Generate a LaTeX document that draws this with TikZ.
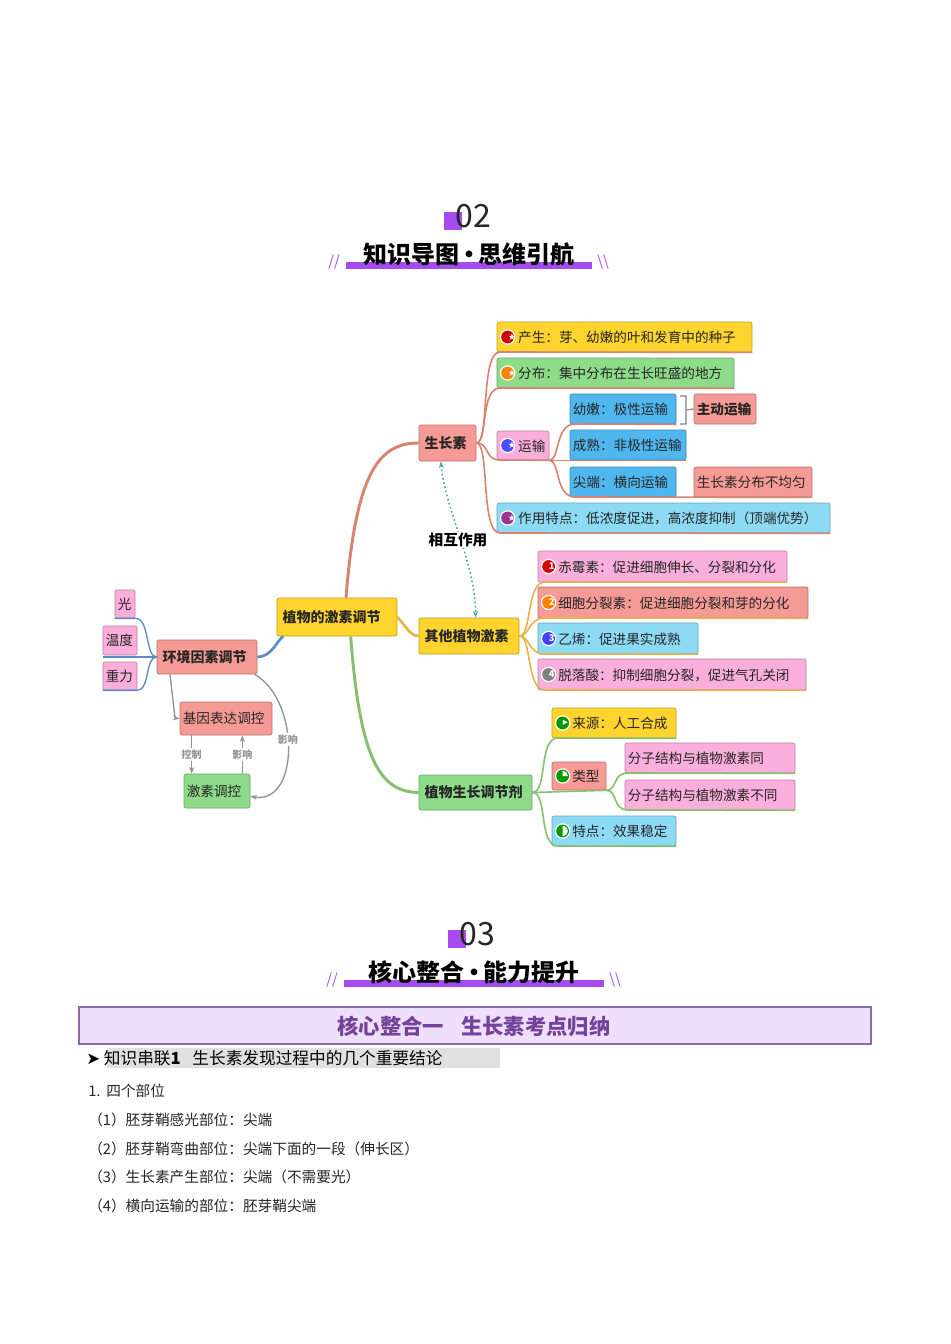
\documentclass[tikz,border=0pt]{standalone}
\usepackage{fontspec}
\setmainfont{Noto Sans CJK SC}
\newfontfamily\sym{DejaVu Sans}
\usetikzlibrary{arrows.meta}
\definecolor{cyel}{HTML}{FFD42E}
\definecolor{cgrn}{HTML}{8EDB8A}
\definecolor{csal}{HTML}{F59A94}
\definecolor{cpink}{HTML}{F9AEDC}
\definecolor{clb}{HTML}{8DDAF5}
\definecolor{cblue}{HTML}{4FB6EE}
\definecolor{cpur}{HTML}{A64BF0}
\definecolor{lred}{HTML}{D9826F}
\definecolor{lora}{HTML}{E7B24A}
\definecolor{lgrn}{HTML}{86C06C}
\definecolor{lblu}{HTML}{5A8AC8}
\newcommand{\bx}[7]{%
 \node[draw=#6!75!black,line width=0.5pt,fill=#6,rounded corners=1.5pt,inner sep=0pt,
  minimum width={(#4-#2)*0.75pt},minimum height={(#5-#3)*0.75pt}] (#1) at ({(#2+#4)/2},{(#3+#5)/2}) {};
 \node[anchor=west,inner sep=0pt,font=\fontsize{10.2}{11}\selectfont,text=black!85] (#1t) at ([xshift=2.2pt]#1.west) {#7};}
\newcommand{\ic}[3]{\tikz[baseline=-0.75ex]{\fill[white] (0,0) circle (5.8pt);\fill[#1] (0,0) circle (4.8pt);\node[text=white,font=#3,inner sep=0pt] at (0,0) {#2};}\hspace{1.5pt}}
\newcommand{\st}[1]{\ic{#1}{\sym\fontsize{7}{7}\selectfont ★}{}}
\newcommand{\nm}[2]{\ic{#1}{\bfseries\fontsize{7}{7}\selectfont #2}{}}
\newcommand{\pie}[1]{\tikz[baseline=-0.75ex]{\fill[white] (0,0) circle (5.8pt);\fill[green!60!black] (0,0) circle (4.8pt);\fill[white] (0,0) -- (90:4pt) arc (90:#1:4pt) -- cycle;}\hspace{1.5pt}}
\begin{document}
\begin{tikzpicture}[x=0.75pt,y=-0.75pt]
\useasboundingbox (0,0) rectangle (950,1344);
\fill[white] (0,0) rectangle (950,1344);
% ===== header 02
\fill[cpur] (444,212) rectangle (462,230);
\node[font=\fontsize{24}{24}\selectfont,text=black!85] (h02) at (473,216) {02};
\fill[cpur] (346,262) rectangle (592,269);
\node[font=\bfseries\fontsize{18}{18}\selectfont] (t02) at (469,254) {知识导图\kern-2pt•\kern-2pt思维引航};
\node[text=cpur,font=\fontsize{11}{11}\selectfont] (s1) at (334,262) {//};
\node[text=cpur,font=\fontsize{11}{11}\selectfont] (s2) at (603,262) {\textbackslash\textbackslash};
% ===== header 03
\fill[cpur] (448,930) rectangle (466,948);
\node[font=\fontsize{24}{24}\selectfont,text=black!85] (h03) at (477,934) {03};
\fill[cpur] (344,980) rectangle (604,987);
\node[font=\bfseries\fontsize{18}{18}\selectfont] (t03) at (474,972) {核心整合\kern-2pt•\kern-2pt能力提升};
\node[text=cpur,font=\fontsize{11}{11}\selectfont] (s3) at (332,980) {//};
\node[text=cpur,font=\fontsize{11}{11}\selectfont] (s4) at (615,980) {\textbackslash\textbackslash};
% ===== purple box
\node[draw=black!45!cpur!70,line width=1.6pt,fill=cpur!18,minimum width={792*0.75pt},minimum height={37*0.75pt},inner sep=0pt] (pb) at (475,1025.5) {};
\node[text=cpur!60!black!90,font=\bfseries\fontsize{16}{16}\selectfont] (pbt) at (474,1026) {核心整合一\hspace{0.8em}生长素考点归纳};
\fill[black!12] (107,1048) rectangle (500,1068);
\node[anchor=west,inner sep=0pt,font=\fontsize{12.5}{13}\selectfont] (k1) at (86,1058) {{\sym ➤} 知识串联\textbf{1}\hspace{0.7em}生长素发现过程中的几个重要结论};
\begin{scope}[every node/.style={anchor=west,inner sep=0pt,font=\fontsize{11}{12}\selectfont,text=black!85}]
\node (b0) at (88,1091) {1.\hspace{0.4em}四个部位};
\node (b1) at (88,1120) {（1）胚芽鞘感光部位：尖端};
\node (b2) at (88,1149) {（2）胚芽鞘弯曲部位：尖端下面的一段（伸长区）};
\node (b3) at (88,1177) {（3）生长素产生部位：尖端（不需要光）};
\node (b4) at (88,1206) {（4）横向运输的部位：胚芽鞘尖端};
\end{scope}
% ===== mind map boxes
\bx{root}{277}{598}{397}{636}{cyel}{\bfseries\fontsize{10.5}{12}\selectfont\kern2pt 植物的激素调节}
\bx{env}{157}{640}{257}{674}{csal}{\bfseries\fontsize{10.5}{12}\selectfont\kern2pt 环境因素调节}
\bx{guang}{115}{590}{135}{618}{cpink}{光}
\bx{wendu}{103}{626}{137}{655}{cpink}{温度}
\bx{zhongli}{103}{662}{137}{690}{cpink}{重力}
\bx{jiyin}{180}{702}{272}{735}{csal}{基因表达调控}
\bx{jisu}{184}{774}{250}{808}{cgrn}{激素调控}
\bx{szs}{419}{425}{476}{461}{csal}{\bfseries\fontsize{10.5}{12}\selectfont\kern2pt 生长素}
\bx{qita}{419}{618}{519}{654}{cyel}{\bfseries\fontsize{10.5}{12}\selectfont\kern2pt 其他植物激素}
\bx{tjj}{419}{775}{532}{810}{cgrn}{\bfseries\fontsize{10.5}{12}\selectfont\kern2pt 植物生长调节剂}
\bx{cs}{497}{322}{752}{352}{cyel}{\st{red!80!black}产生：芽、幼嫩的叶和发育中的种子}
\bx{fb}{497}{358}{734}{388}{cgrn}{\st{orange}分布：集中分布在生长旺盛的地方}
\bx{ys}{497}{431}{549}{460}{cpink}{\st{blue!70}运输}
\bx{zy}{497}{503}{830}{533}{clb}{\st{violet!80}作用特点：低浓度促进，高浓度抑制（顶端优势）}
\bx{yn}{570}{394}{676}{424}{cblue}{幼嫩：极性运输}
\bx{cshu}{570}{430}{686}{460}{cblue}{成熟：非极性运输}
\bx{jd}{570}{467}{676}{497}{cblue}{尖端：横向运输}
\bx{zd}{694}{394}{756}{424}{csal}{\bfseries 主动运输}
\bx{bjy}{694}{467}{812}{497}{csal}{生长素分布不均匀}
\bx{cms}{538}{551}{787}{582}{cpink}{\nm{red!85!black}{1}赤霉素：促进细胞伸长、分裂和分化}
\bx{xb}{538}{587}{808}{618}{csal}{\nm{orange}{2}细胞分裂素：促进细胞分裂和芽的分化}
\bx{yx}{538}{623}{698}{654}{clb}{\nm{blue!75}{3}乙烯：促进果实成熟}
\bx{tl}{538}{659}{806}{690}{cpink}{\nm{gray}{4}脱落酸：抑制细胞分裂，促进气孔关闭}
\bx{ly}{552}{708}{676}{738}{cyel}{\ic{green!60!black}{\sym\fontsize{5}{5}\selectfont ▶}{}来源：人工合成}
\bx{lx}{552}{762}{606}{790}{csal}{\pie{0}类型}
\bx{ft}{625}{743}{795}{773}{cpink}{分子结构与植物激素同}
\bx{fbt}{625}{780}{795}{810}{cpink}{分子结构与植物激素不同}
\bx{td}{552}{816}{676}{846}{clb}{\pie{-90}特点：效果稳定}
% ===== connectors
\tikzset{tr/.style={line width=1.2pt}}
\draw[lred,line width=2.2pt] ([xshift=52pt]root.north west) .. controls (356,470) and (380,443) .. (szs.west);
\draw[lora,line width=2pt] (root.east) .. controls (405,625) and (410,636) .. (qita.west);
\draw[lgrn,line width=2.2pt] ([xshift=-35pt]root.south east) .. controls (360,760) and (380,792) .. (tjj.west);
\draw[lblu,line width=2pt] (env.east) .. controls (272,657) and (277,640) .. ([xshift=5pt]root.south west);
% env leaves
\draw[lblu,line width=1pt] (env.west) .. controls (145,657) and (150,618) .. (guang.south east) -- (guang.south west);
\draw[lblu,line width=1pt] (env.west) -- (103,657);
\draw[lblu,line width=1pt] (env.west) .. controls (145,657) and (150,690) .. (zhongli.south east) -- (zhongli.south west);
% env arrows
\tikzset{ga/.style={gray!85,line width=1pt,-{Stealth[length=5pt]}}}
\draw[ga] ([xshift=10pt]env.south west) -- (175,718) -- (jiyin.west);
\draw[ga] ([xshift=9pt]jiyin.south west) coordinate (ka) -- (ka |- jisu.north) node[midway,fill=white,inner sep=1pt,font=\bfseries\fontsize{7.5}{8}\selectfont] {控制};
\draw[ga] ([xshift=-6pt]jisu.north east) coordinate (kb) -- (kb |- jiyin.south) node[midway,fill=white,inner sep=1pt,font=\bfseries\fontsize{7.5}{8}\selectfont] {影响};
\draw[ga] ([xshift=-2pt]env.south east) .. controls (300,700) and (300,805) .. ([yshift=-4pt]jisu.east) node[pos=0.45,fill=white,inner sep=1pt,font=\bfseries\fontsize{7.5}{8}\selectfont] {影响};
% mutual
\draw[teal!70,dotted,line width=1.2pt,{Stealth[length=5pt]}-{Stealth[length=5pt]}] ([xshift=-5pt]szs.south) .. controls (445,510) and (475,560) .. ([xshift=5pt]qita.north);
\node[fill=white,inner sep=1pt,font=\bfseries\fontsize{11}{12}\selectfont] (hx) at (458,540) {相互作用};
% 生长素 tree
\draw[lred,tr] (szs.east) .. controls (490,443) and (480,352) .. (500,352) -- (cs.south east);
\draw[lred,tr] (szs.east) .. controls (488,443) and (480,388) .. (500,388) -- (fb.south east);
\draw[lred,tr] (szs.east) .. controls (490,443) and (484,460) .. (500,460) -- (ys.south east);
\draw[lred,tr] (szs.east) .. controls (490,443) and (480,533) .. (500,533) -- (zy.south east);
\draw[lred,tr] (ys.south east) .. controls (560,460) and (555,424) .. (575,424) -- (yn.south east);
\draw[lred,tr] (ys.south east) -- (cshu.south east);
\draw[lred,tr] (ys.south east) .. controls (560,460) and (555,497) .. (575,497) -- (bjy.south east);
\draw[gray,line width=0.8pt] (680,396) -- (686,396) -- (686,424) -- (680,424) (686,410) -- (zd.west);
% 其他 tree
\draw[lora,tr] (qita.east) .. controls (532,636) and (526,582) .. (545,582) -- (cms.south east);
\draw[lora,tr] (qita.east) .. controls (530,636) and (528,618) .. (545,618) -- (xb.south east);
\draw[lora,tr] (qita.east) .. controls (530,636) and (528,654) .. (545,654) -- (yx.south east);
\draw[lora,tr] (qita.east) .. controls (532,636) and (526,690) .. (545,690) -- (tl.south east);
% 调节剂 tree
\draw[lgrn,tr] (tjj.east) .. controls (548,792) and (538,738) .. (558,738) -- (ly.south east);
\draw[lgrn,tr] (tjj.east) -- (lx.south east);
\draw[lgrn,tr] (tjj.east) .. controls (548,792) and (538,846) .. (558,846) -- (td.south east);
\draw[lgrn,tr] (lx.south east) .. controls (618,790) and (612,773) .. (628,773) -- (ft.south east);
\draw[lgrn,tr] (lx.south east) .. controls (618,790) and (612,810) .. (628,810) -- (fbt.south east);
\end{tikzpicture}
\end{document}
